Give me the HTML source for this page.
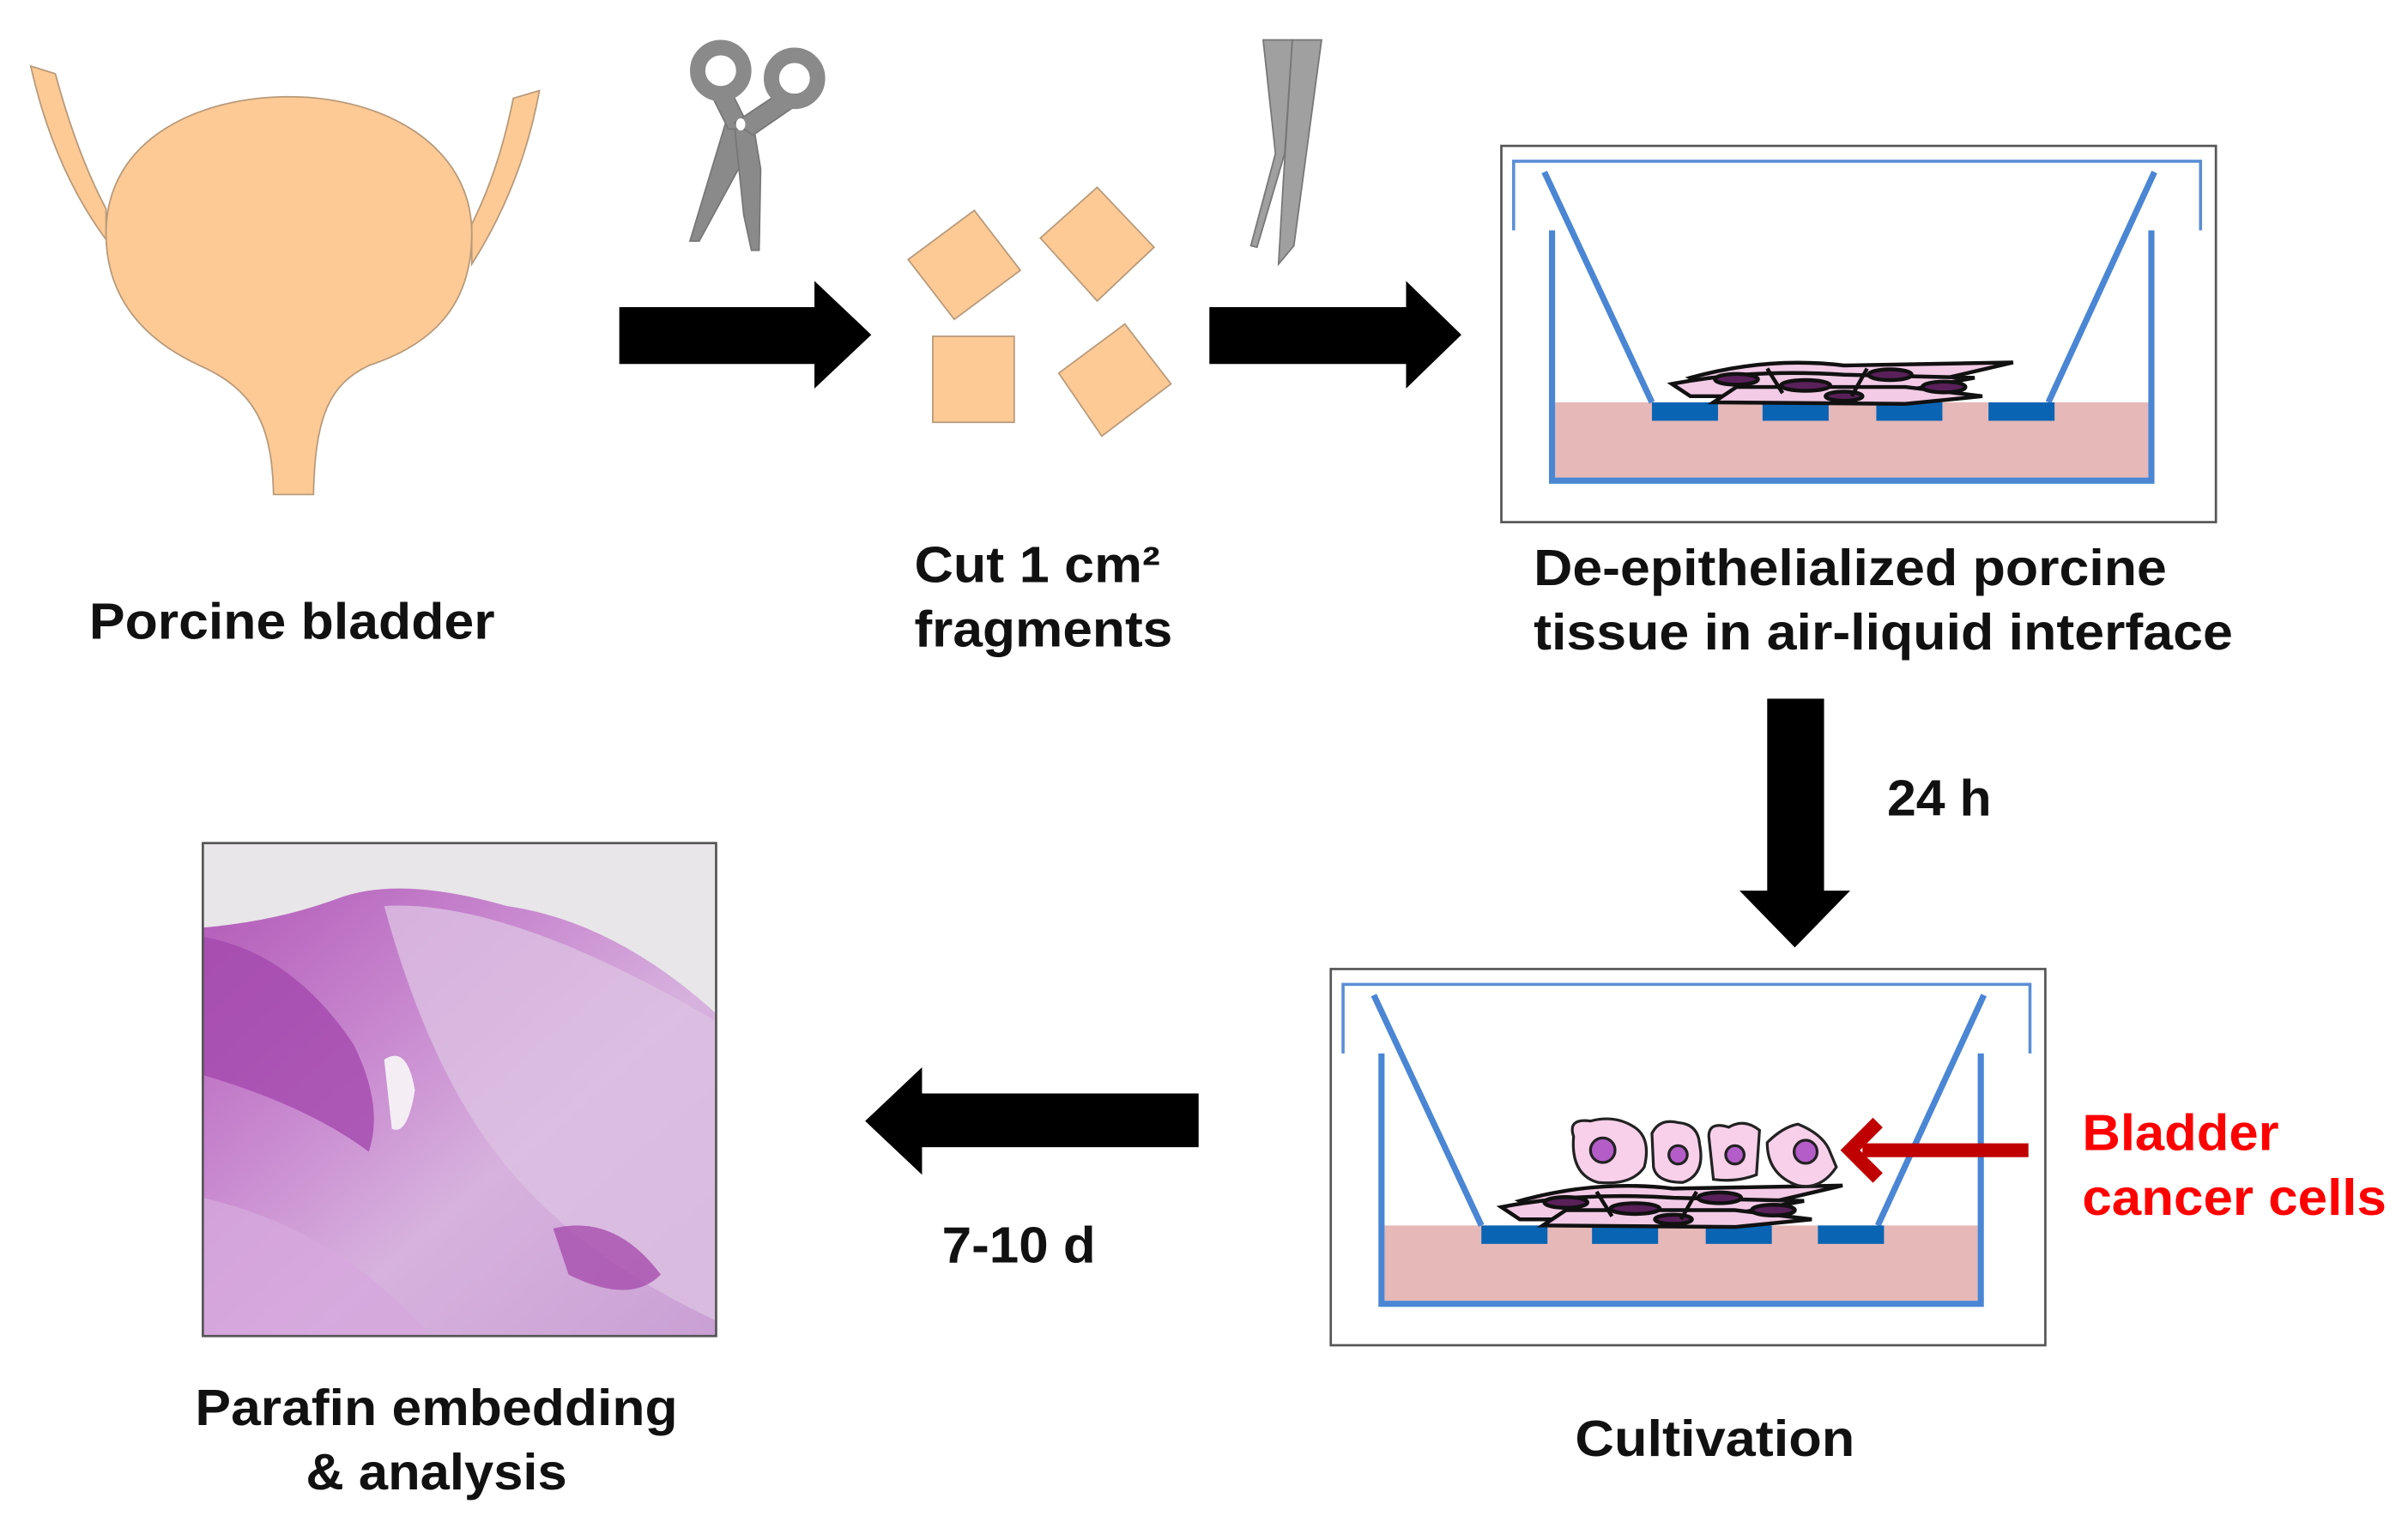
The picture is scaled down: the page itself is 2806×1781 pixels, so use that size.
<!DOCTYPE html>
<html><head><meta charset="utf-8"><style>
html,body{margin:0;padding:0;background:#fff;}
svg{display:block}
text{font-family:"Liberation Sans",Arial,sans-serif;font-weight:bold;}
</style></head><body>
<svg width="2806" height="1781" viewBox="0 0 1567 995" preserveAspectRatio="none" xmlns="http://www.w3.org/2000/svg">
<defs>
<g id="well">
  <path d="M985,150 V105 H1432 V150" fill="none" stroke="#5b8fd6" stroke-width="2"/>
  <rect x="1012" y="262" width="386" height="49" fill="#e6b8b7"/>
  <path d="M1010,150 V313 H1400 V150" fill="none" stroke="#4a86d4" stroke-width="4"/>
  <path d="M1005,112 L1075,262 M1402,112 L1333,262" fill="none" stroke="#4a86d4" stroke-width="4"/>
  <rect x="1075" y="262" width="43" height="12" fill="#0a64b4"/>
  <rect x="1147" y="262" width="43" height="12" fill="#0a64b4"/>
  <rect x="1221" y="262" width="43" height="12" fill="#0a64b4"/>
  <rect x="1294" y="262" width="43" height="12" fill="#0a64b4"/>
  <g stroke="#111" stroke-width="2.5">
    <path d="M1100,246 Q1150,232 1200,238 L1310,236 L1250,250 L1120,256 Z" fill="#f3cbe6"/>
    <path d="M1088,250 Q1140,240 1200,244 L1285,246 L1220,258 L1100,258 Z" fill="#f3cbe6"/>
    <path d="M1115,262 L1130,252 L1240,252 L1290,258 L1240,263 Z" fill="#f3cbe6"/>
    <ellipse cx="1130" cy="247" rx="14" ry="3.5" fill="#5a205a"/>
    <ellipse cx="1175" cy="251" rx="16" ry="3.5" fill="#5a205a"/>
    <ellipse cx="1230" cy="244" rx="14" ry="3.5" fill="#5a205a"/>
    <ellipse cx="1265" cy="252" rx="14" ry="3.5" fill="#5a205a"/>
    <ellipse cx="1200" cy="258" rx="12" ry="3" fill="#5a205a"/>
    <path d="M1150,240 L1160,256 M1215,240 L1205,258" fill="none"/>
  </g>
  <rect x="977" y="95" width="465" height="245" fill="none" stroke="#555" stroke-width="1.5"/>
</g>
</defs>
<rect width="1567" height="995" fill="#fff"/>

<!-- bladder -->
<g fill="#fdca96" stroke="#b89a7a" stroke-width="1">
  <path d="M20,43 L36,48 Q50,100 69,136 L69,156 Q35,110 20,43 Z"/>
  <path d="M351,59 L334,64 Q325,110 307,146 L307,172 Q340,120 351,59 Z"/>
  <path d="M69,152 C69,90 130,63 188,63 C250,63 307,95 307,152 C307,200 280,225 240,238 C215,250 205,270 204,322 L178,322 C177,280 168,255 130,238 C95,222 69,195 69,152 Z"/>
</g>

<!-- scissors -->
<g fill="#8a8a8a" stroke="#777" stroke-width="1">
  <path d="M474,74 L449,157 L455,157 L486,100 L490,80 Z"/>
  <path d="M478,82 L484,140 L489,163 L494,163 L495,110 L490,80 Z"/>
  <path d="M462,60 L474,84 L488,84 L474,56 Z"/>
  <path d="M508,60 L478,80 L490,88 L516,70 Z"/>
  <circle cx="469" cy="46" r="15" fill="none" stroke="#8a8a8a" stroke-width="10"/>
  <circle cx="517" cy="51" r="15" fill="none" stroke="#8a8a8a" stroke-width="10"/>
  <ellipse cx="482" cy="81" rx="3" ry="4" fill="#fff" stroke="none"/>
</g>
<!-- tweezers -->
<g fill="#a0a0a0" stroke="#777" stroke-width="1">
  <path d="M822,26 L841,26 L836,100 L818,161 L814,160 L830,100 Z"/>
  <path d="M841,26 L860,26 L842,160 L832,172 L835,120 Z"/>
</g>

<!-- fragments -->
<g fill="#fdca96" stroke="#b89a7a" stroke-width="1">
  <polygon points="591,169 634,137 664,176 621,208"/>
  <polygon points="677,155 714,122 751,161 714,196"/>
  <rect x="607" y="219" width="53" height="56"/>
  <polygon points="689,243 732,211 762,250 717,284"/>
</g>

<!-- black arrows -->
<polygon points="403,200 530,200 530,183 567,218 530,253 530,237 403,237" fill="#000"/>
<polygon points="787,200 915,200 915,183 951,218 915,253 915,237 787,237" fill="#000"/>
<polygon points="1150,455 1187,455 1187,580 1204,580 1168,617 1132,580 1150,580" fill="#000"/>
<polygon points="780,712 600,712 600,695 563,730 600,765 600,747 780,747" fill="#000"/>

<!-- wells -->
<use href="#well"/>
<use href="#well" transform="translate(-111,536)"/>

<!-- cancer cells -->
<g stroke="#222" stroke-width="1.8">
  <path d="M1024,740 Q1020,728 1035,730 Q1050,726 1062,733 Q1075,740 1070,760 Q1062,772 1040,770 Q1022,765 1024,740 Z" fill="#f8d0ea"/>
  <path d="M1075,738 Q1080,728 1092,731 Q1105,732 1106,745 Q1110,765 1095,770 Q1078,770 1076,760 Z" fill="#f8d0ea"/>
  <path d="M1112,740 Q1112,730 1125,734 Q1135,728 1145,736 L1143,765 Q1130,770 1115,768 Z" fill="#f8d0ea"/>
  <path d="M1150,744 Q1160,734 1170,732 Q1185,738 1190,748 L1195,760 Q1185,775 1170,772 Q1150,765 1150,744 Z" fill="#f8d0ea"/>
  <circle cx="1043" cy="749" r="8" fill="#b45cc8"/>
  <circle cx="1092" cy="752" r="6" fill="#b45cc8"/>
  <circle cx="1129" cy="752" r="6" fill="#b45cc8"/>
  <circle cx="1175" cy="750" r="7.5" fill="#b45cc8"/>
</g>
<!-- red arrow -->
<path d="M1320,749 H1212" stroke="#c00000" stroke-width="9"/>
<path d="M1222,731 L1204,749 L1222,767" fill="none" stroke="#c00000" stroke-width="9"/>

<!-- histology -->
<defs>
<linearGradient id="hg" x1="0" y1="0" x2="1" y2="1">
  <stop offset="0" stop-color="#b25ab8"/>
  <stop offset="0.35" stop-color="#c98ad0"/>
  <stop offset="0.6" stop-color="#d7b2de"/>
  <stop offset="1" stop-color="#caa0d4"/>
</linearGradient>
</defs>
<rect x="132" y="549" width="334" height="321" fill="#e8e6e8"/>
<path d="M132,604 Q180,600 220,585 Q260,570 330,590 Q400,600 466,660 V870 H132 Z" fill="url(#hg)"/>
<path d="M250,590 Q330,585 466,665 V860 Q380,820 330,760 Q280,700 250,590 Z" fill="#dcc0e2" opacity="0.8"/>
<path d="M132,610 Q190,620 230,680 Q250,720 240,750 Q200,720 132,700 Z" fill="#a448ae" opacity="0.8"/>
<path d="M132,780 Q220,800 280,870 H132 Z" fill="#d6a8dd" opacity="0.8"/>
<path d="M360,800 Q400,790 430,830 Q410,850 370,830 Z" fill="#a64dae" opacity="0.8"/>
<path d="M250,690 Q265,680 270,710 Q265,740 255,735 Z" fill="#f4eef4"/>
<rect x="132" y="549" width="334" height="321" fill="none" stroke="#555" stroke-width="1.5"/>

<!-- labels -->
<g font-size="33" fill="#111" lengthAdjust="spacingAndGlyphs">
<text x="58" y="416" textLength="264" lengthAdjust="spacingAndGlyphs">Porcine bladder</text>
<text x="595" y="379" textLength="160" lengthAdjust="spacingAndGlyphs">Cut 1 cm²</text>
<text x="595" y="421" textLength="168" lengthAdjust="spacingAndGlyphs">fragments</text>
<text x="998" y="381" textLength="412" lengthAdjust="spacingAndGlyphs">De-epithelialized porcine</text>
<text x="998" y="423" textLength="455" lengthAdjust="spacingAndGlyphs">tissue in air-liquid interface</text>
<text x="1228" y="531" textLength="68" lengthAdjust="spacingAndGlyphs">24 h</text>
<text x="613" y="822" textLength="100" lengthAdjust="spacingAndGlyphs">7-10 d</text>
<text x="127" y="928" textLength="314" lengthAdjust="spacingAndGlyphs">Parafin embedding</text>
<text x="199" y="970" textLength="170" lengthAdjust="spacingAndGlyphs">&amp; analysis</text>
<text x="1025" y="948" textLength="182" lengthAdjust="spacingAndGlyphs">Cultivation</text>
<text x="1355" y="749" fill="#ff0000" textLength="128" lengthAdjust="spacingAndGlyphs">Bladder</text>
<text x="1355" y="791" fill="#ff0000" textLength="198" lengthAdjust="spacingAndGlyphs">cancer cells</text>
</g>
</svg>
</body></html>
